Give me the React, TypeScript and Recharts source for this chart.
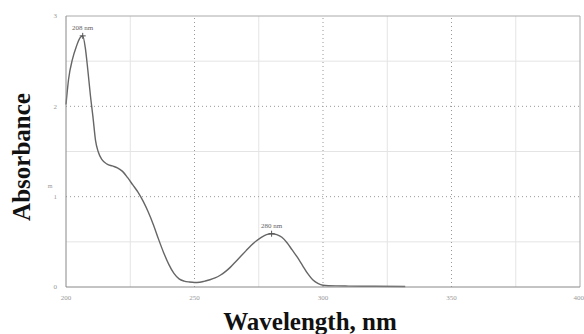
import React from "react";
import {
  LineChart,
  Line,
  XAxis,
  YAxis,
  ReferenceLine,
  ReferenceDot,
  Label,
} from "recharts";

// UV spectrum
const wavelength = [
  200, 201, 202.5, 204, 205.5, 206.5, 207.5, 208.5, 209.5, 210.5, 211.5, 212.5,
  214, 216, 218, 220, 222, 224, 226, 228, 230, 232, 234, 236, 238, 240, 242, 244,
  246, 248, 250, 252, 254, 256, 258, 260, 262, 264, 266, 268, 270, 272, 274, 276,
  278, 280, 282, 284, 286, 288, 290, 292, 294, 296, 298, 300, 305, 310, 320, 332,
];
const absorbance = [
  2.02, 2.3, 2.52, 2.66, 2.76, 2.78, 2.65, 2.4, 2.12, 1.88, 1.62, 1.5,
  1.41, 1.36, 1.34, 1.32, 1.28, 1.21, 1.13, 1.05, 0.95, 0.83, 0.69, 0.53, 0.38, 0.25, 0.15, 0.09,
  0.065, 0.055, 0.05, 0.052, 0.065, 0.08, 0.1, 0.13, 0.17, 0.22, 0.28, 0.34, 0.4, 0.46, 0.51, 0.55,
  0.58, 0.59, 0.58, 0.55, 0.49, 0.41, 0.33, 0.24, 0.15, 0.08, 0.04, 0.02, 0.012, 0.01, 0.008, 0.006,
];

const xTicks = [200, 250, 300, 350, 400];
const yTicks = [0, 1, 2, 3];
const xMajor = [250, 300, 350];
const xMinor = [225, 275, 325, 375];
const yMajor = [1, 2];
const yMinor = [0.5, 1.5, 2.5];
const peaks = [
  { x: 206.5, y: 2.78, label: "208 nm" },
  { x: 280, y: 0.59, label: "280 nm" },
];

const data = wavelength.map((w, i) => ({ w, a: absorbance[i] }));

const titleFont = "'Liberation Serif', 'DejaVu Serif', serif";

const Plus = (props: any) => {
  const { cx, cy } = props;
  return (
    <g stroke="#555" strokeWidth={1}>
      <line x1={cx - 3} x2={cx + 3} y1={cy} y2={cy} />
      <line x1={cx} x2={cx} y1={cy - 3} y2={cy + 3} />
    </g>
  );
};

export default function App() {
  return (
    <div style={{ position: "fixed", left: 0, top: 0, background: "#fff" }}>
      <LineChart
        width={584}
        height={334}
        data={data}
        margin={{ top: 16, right: 4, left: 0, bottom: 0 }}
      >
        {xMinor.map((v) => (
          <ReferenceLine key={"xm" + v} x={v} stroke="#e4e4e4" />
        ))}
        {yMinor.map((v) => (
          <ReferenceLine key={"ym" + v} y={v} stroke="#e4e4e4" />
        ))}
        {xMajor.map((v) => (
          <ReferenceLine key={"xM" + v} x={v} stroke="#999" strokeDasharray="1 3" />
        ))}
        {yMajor.map((v) => (
          <ReferenceLine key={"yM" + v} y={v} stroke="#999" strokeDasharray="1 3" />
        ))}
        <ReferenceLine y={3} stroke="#aaa" />
        <ReferenceLine x={400} stroke="#aaa" />
        <XAxis
          dataKey="w"
          type="number"
          domain={[200, 400]}
          ticks={xTicks}
          height={47}
          stroke="#888"
          tickLine={false}
          tick={{ fontSize: 7, fill: "#999" }}
          tickMargin={2}
        >
          <Label
            content={() => (
              <text
                x={310}
                y={330}
                textAnchor="middle"
                fontFamily={titleFont}
                fontWeight="bold"
                fontSize={25}
                fill="#111"
              >
                Wavelength, nm
              </text>
            )}
          />
        </XAxis>
        <YAxis
          type="number"
          domain={[0, 3]}
          ticks={yTicks}
          width={66}
          stroke="#888"
          tickLine={false}
          tick={{ fontSize: 7, fill: "#999" }}
          tickMargin={3}
        >
          <Label
            content={() => (
              <g>
                <text
                  x={21}
                  y={157}
                  transform="rotate(-90 21 157)"
                  textAnchor="middle"
                  dominantBaseline="central"
                  fontFamily={titleFont}
                  fontWeight="bold"
                  fontSize={25}
                  fill="#111"
                >
                  Absorbance
                </text>
                <text x={50} y={188} fontSize={6} fill="#999" textAnchor="middle">
                  m
                </text>
              </g>
            )}
          />
        </YAxis>
        <Line
          type="monotone"
          dataKey="a"
          stroke="#666"
          strokeWidth={1.4}
          dot={false}
          isAnimationActive={false}
        />
        {peaks.map((p) => (
          <ReferenceDot key={p.label} x={p.x} y={p.y} r={2} shape={<Plus />}>
            <Label value={p.label} position="top" offset={4} fontSize={7} fill="#666" />
          </ReferenceDot>
        ))}
      </LineChart>
    </div>
  );
}
